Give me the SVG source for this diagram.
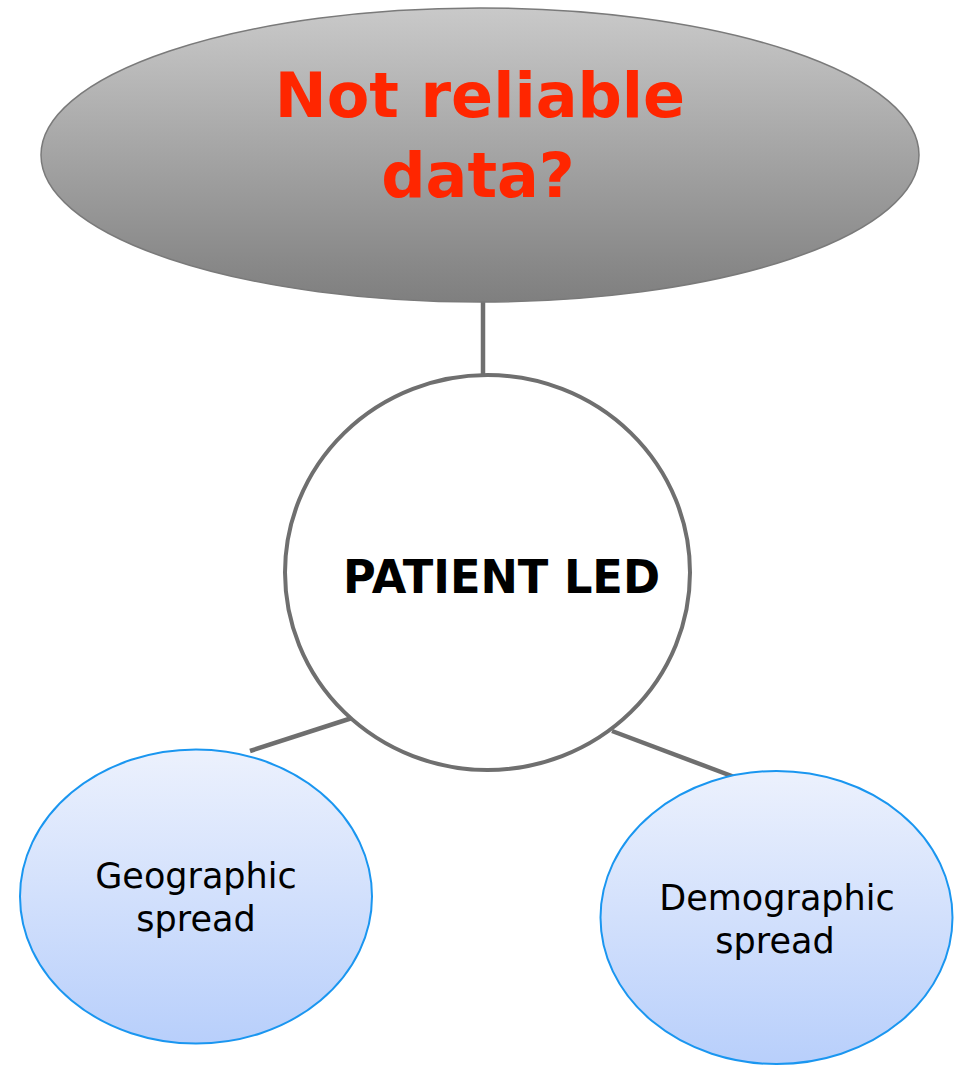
<svg xmlns="http://www.w3.org/2000/svg" width="971" height="1065" viewBox="0 0 971 1065">
<style>
.conn{stroke:#6f6f6f;stroke-width:4.5;fill:none;stroke-linecap:butt}
.blue{stroke:#1a96f0;stroke-width:2;fill:url(#gb)}
.small{font-family:"DejaVu Sans","Liberation Sans",sans-serif;font-size:35px;fill:#000;text-anchor:middle}
</style>
<defs>
<linearGradient id="gg" x1="0" y1="0" x2="0" y2="1">
<stop offset="0" stop-color="#c9c9c9"/>
<stop offset="1" stop-color="#7f7f7f"/>
</linearGradient>
<linearGradient id="gb" x1="0" y1="0" x2="0" y2="1">
<stop offset="0" stop-color="#ecf1fd"/>
<stop offset="1" stop-color="#b8cffb"/>
</linearGradient>
</defs>
<g id="connectors">
<line class="conn" x1="483" y1="302" x2="483" y2="376"/>
<line class="conn" x1="250" y1="751" x2="352" y2="718"/>
<line class="conn" x1="612" y1="731" x2="737" y2="778"/>
</g>
<g id="top">
<ellipse cx="480" cy="155" rx="439" ry="147" fill="url(#gg)" stroke="#7a7a7a" stroke-width="1.5"/>
<text x="480" y="117" font-family="DejaVu Sans, sans-serif" font-weight="bold" font-size="62" fill="#ff2600" text-anchor="middle">Not reliable</text>
<text x="478" y="197" font-family="DejaVu Sans, sans-serif" font-weight="bold" font-size="62" fill="#ff2600" text-anchor="middle">data?</text>
</g>
<g id="center">
<ellipse cx="487.5" cy="572.5" rx="202.5" ry="197.5" fill="#fff" stroke="#6f6f6f" stroke-width="4"/>
<text x="501.5" y="593" font-family="DejaVu Sans, sans-serif" font-weight="bold" font-size="47" fill="#000" text-anchor="middle" textLength="317" lengthAdjust="spacingAndGlyphs">PATIENT LED</text>
</g>
<g id="geo">
<ellipse class="blue" cx="196" cy="896.5" rx="176" ry="147"/>
<text class="small" x="196" y="888">Geographic</text>
<text class="small" x="196" y="931">spread</text>
</g>
<g id="demo">
<ellipse class="blue" cx="776.5" cy="917.5" rx="176" ry="146.5"/>
<text class="small" x="777" y="910">Demographic</text>
<text class="small" x="775" y="953">spread</text>
</g>
</svg>
